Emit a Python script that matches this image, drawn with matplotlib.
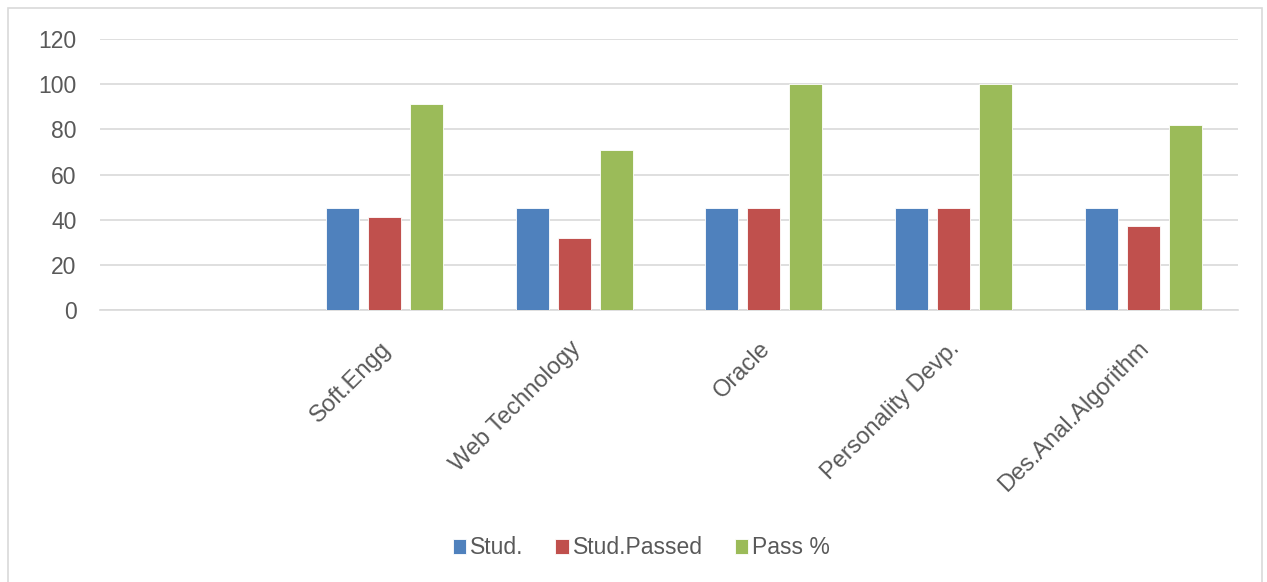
import numpy as np
import matplotlib.pyplot as plt
import matplotlib.transforms as mtransforms
from matplotlib.patches import Rectangle

plt.rcParams['font.family'] = ['Liberation Sans', 'DejaVu Sans']

# data
subjects = ['Soft.Engg', 'Web Technology', 'Oracle', 'Personality Devp.', 'Des.Anal.Algorithm']
stud = [45, 45, 45, 45, 45]
stud_passed = [41, 32, 45, 45, 37]
pass_pct = [91, 71, 100, 100, 82]

series = [('Stud.', stud, '#4F81BD'),
          ('Stud.Passed', stud_passed, '#C0504D'),
          ('Pass %', pass_pct, '#9BBB59')]

fs = 16.5
fig = plt.figure(figsize=(12.67, 5.82), dpi=100)
ax = fig.add_axes([100 / 1267, 1 - 310 / 582, 1138 / 1267, 271 / 582])

# light frame around the whole chart
fig.patches.append(Rectangle((8 / 1267, -0.01), 1254 / 1267, 1 - 8 / 582 + 0.01,
                             transform=fig.transFigure, fill=False,
                             edgecolor='#d9d9d9', lw=1.2))

x = np.arange(len(subjects))
w = 0.174
step = 0.222
for i, (name, vals, col) in enumerate(series):
    ax.bar(x + (i - 1) * step, vals, w, color=col, label=name,
           edgecolor='white', linewidth=0.6, zorder=3)

ax.set_xlim(-1.5, len(subjects) - 0.5)
ax.set_ylim(0, 120)
ax.set_yticks(range(0, 121, 20))
ax.yaxis.grid(True, color='#d9d9d9', lw=1.2, zorder=0)
ax.set_axisbelow(True)
for s in ['top', 'right', 'left']:
    ax.spines[s].set_visible(False)
ax.spines['bottom'].set_color('#d9d9d9')
ax.spines['bottom'].set_linewidth(1.2)
ax.tick_params(axis='both', length=0, labelsize=fs, colors='#595959')
ax.tick_params(axis='y', pad=17)
ax.tick_params(axis='x', pad=20, labelsize=17)
ax.set_xticks(x)
ax.set_xticklabels(subjects, rotation=45, ha='right', rotation_mode='anchor')
# nudge the rotated labels a little to the left
shift = mtransforms.ScaledTranslation(-5 / 100, 0, fig.dpi_scale_trans)
for lbl in ax.get_xticklabels():
    lbl.set_transform(lbl.get_transform() + shift)

leg = fig.legend(loc='center', bbox_to_anchor=(0.506, 1 - 548 / 582), ncol=3,
                 frameon=False, fontsize=fs, handlelength=0.58, handleheight=0.58,
                 handletextpad=0.17, columnspacing=1.4)
for t in leg.get_texts():
    t.set_color('#595959')

fig.savefig('out.png', dpi=100)
